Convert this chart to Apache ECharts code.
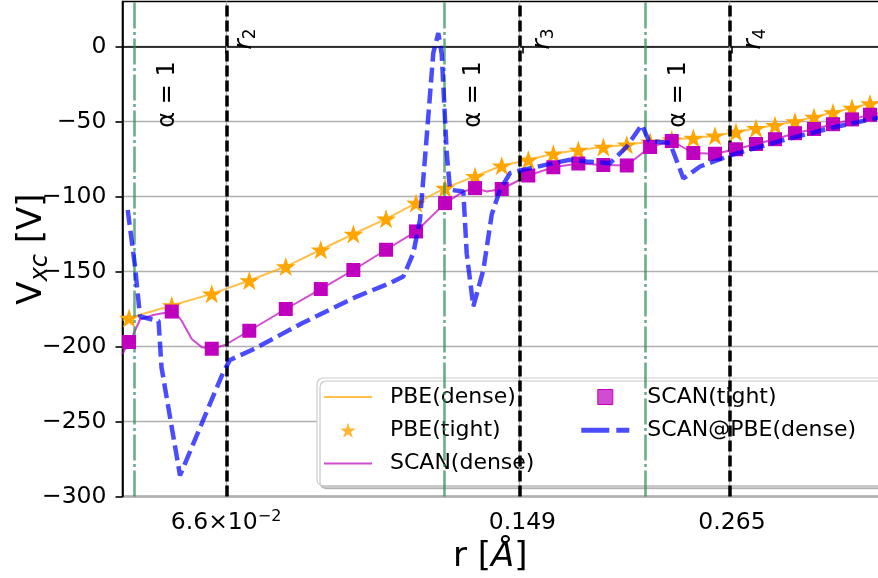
<!DOCTYPE html>
<html><head><meta charset="utf-8">
<script src="https://cdn.jsdelivr.net/npm/echarts@6/dist/echarts.min.js"></script>
<style>html,body{margin:0;padding:0;background:#fff}#c{width:878px;height:578px}</style>
</head><body><div id="c"></div>
<script>
// ---------- axis ticks ----------
const xTickR = [0.066, 0.149, 0.265];
const xTickLabels = ['6.6×10{sup|−2}', '0.149', '0.265'];
const yTicks = [-300, -250, -200, -150, -100, -50, 0];
const xRange = [0.04966, 0.40683];
const yRange = [-300, 30];

// ---------- reference lines ----------
const rRefLines = [0.066, 0.149, 0.265];
const rRefSubs = ['2', '3', '4'];
const alphaLines = [0.0516, 0.1196, 0.2100];

// ---------- tight grid (markers) ----------
const rTight = [0.05056, 0.05686, 0.06346, 0.07036, 0.07777, 0.08562, 0.09364, 0.10244, 0.11124, 0.12047,
  0.13082, 0.14078, 0.15145, 0.16222, 0.17376, 0.18612, 0.19848, 0.21160, 0.22459, 0.23831,
  0.25294, 0.26795, 0.28309, 0.29826, 0.31509, 0.33198, 0.34977, 0.36851, 0.38721];
const pbeTight = [-181, -172.7, -164.9, -156, -146.7, -135.5, -125, -114.9, -104.4, -94.4,
  -86.5, -79.5, -75.5, -71.5, -69, -67, -65.5, -63.5, -62, -61,
  -59.5, -57, -54.5, -52.5, -50, -47, -44, -41, -38];
const scanTight = [-197, -176.7, -201.5, -189.5, -175, -161.7, -149, -135.5, -123.3, -104.4,
  -94.4, -95, -86, -80.5, -78, -79, -79.3, -67, -63, -71,
  -71.5, -68.5, -65, -61.8, -57.8, -55, -51.8, -48.6, -45.5];

// ---------- dense grids (lines) ----------
const rPbeDense = [0.04966, 0.05056, 0.05686, 0.06346, 0.07036, 0.07777, 0.08562, 0.09364, 0.10244, 0.11124,
  0.12047, 0.13082, 0.14078, 0.15145, 0.16222, 0.17376, 0.18612, 0.19848, 0.21160, 0.22459,
  0.23831, 0.25294, 0.26795, 0.28309, 0.29826, 0.31509, 0.33198, 0.34977, 0.36851, 0.38721, 0.40349];
const pbeDense = [-182.5, -181, -172.7, -164.9, -156, -146.7, -135.5, -125, -114.9, -104.4,
  -94.4, -86.5, -79.5, -75.5, -71.5, -69, -67, -65.5, -63.5, -62,
  -61, -59.5, -57, -54.5, -52.5, -50, -47, -44, -41, -38, -36];

const rScanDense = [0.04966, 0.05056, 0.05116, 0.05211, 0.05405, 0.05686, 0.05765, 0.05844, 0.06007, 0.06174, 0.06346,
  0.06582, 0.07036, 0.07777, 0.08562, 0.09364, 0.10244, 0.11124, 0.12047, 0.12668, 0.13082,
  0.13508, 0.14078, 0.15145, 0.16222, 0.17376, 0.18612, 0.19848, 0.21160, 0.22459, 0.23831,
  0.25294, 0.26795, 0.28309, 0.29826, 0.31509, 0.33198, 0.34977, 0.36851, 0.38721, 0.40349];
const scanDense = [-205, -197, -192, -182, -179, -176.7, -178.5, -183, -195, -200.5, -201.5,
  -199, -189.5, -175, -161.7, -149, -135.5, -123.3, -104.4, -96.7, -94.4,
  -96.7, -95, -86, -80.5, -78, -79, -79.3, -67, -63, -71,
  -71.5, -68.5, -65, -61.8, -57.8, -55, -51.8, -48.6, -45.5, -43.5];

const rScanAtPbe = [0.05038, 0.05140, 0.05211, 0.05233, 0.05483, 0.05528, 0.05816, 0.06551, 0.06672, 0.07107,
  0.08132, 0.09451, 0.10357, 0.10742, 0.11041, 0.11246, 0.11455, 0.11664, 0.11826, 0.11937,
  0.12103, 0.12213, 0.12668, 0.12785, 0.13020, 0.13383, 0.13696, 0.14012, 0.14403, 0.14803,
  0.16209, 0.16984, 0.17782, 0.18955, 0.19848, 0.20682, 0.21100, 0.22353, 0.23187, 0.24273,
  0.26577, 0.30237, 0.34977, 0.39578, 0.40349];
const scanAtPbe = [-109, -146.7, -180, -181, -183, -214, -286, -217, -209, -202,
  -184.5, -166.7, -157.8, -153.3, -137.8, -115.5, -60, -4.4, 8.9, -5,
  -71, -95.5, -96.7, -137.8, -173.3, -149, -112, -95.5, -84.4, -82.7,
  -77.8, -75.5, -76.7, -77.8, -66.7, -52.2, -63, -64.4, -88, -80,
  -72, -63, -54, -47.5, -47];

// ---------- build ----------
const FONT = 'DejaVu Sans';
const L = Math.log10;
const pairs = (rs, vs) => rs.map((r, i) => [L(r), vs[i]]);
const STAR = 'path://M50,0L61.2,34.5L97.6,34.5L68.2,55.9L79.4,90.5L50,69.1L20.6,90.5L31.8,55.9L2.4,34.5L38.8,34.5Z';
const LINEICON = 'path://M0,0h48v2h-48z';
const DASHICON = 'path://M0,0h28v5h-28z M35,0h13v5h-13z';
const SQUAREICON = 'path://M0,0h10v10h-10z';
const xTickVals = xTickR.map(L);

const chart = echarts.init(document.getElementById('c'), null, {renderer: 'canvas'});
chart.setOption({
  animation: false,
  textStyle: {fontFamily: FONT},
  grid: {left: 122.5, right: -10, top: 1.5, bottom: 81.5, outerBoundsMode: 'none', containLabel: false,
    show: true, borderColor: '#000', borderWidth: 1.6, backgroundColor: 'transparent'},
  xAxis: {
    type: 'value', min: L(xRange[0]), max: L(xRange[1]),
    axisLine: {lineStyle: {color: '#000', width: 1.6}},
    axisTick: {customValues: xTickVals, length: 7, lineStyle: {color: '#000', width: 1.6}},
    axisLabel: {
      customValues: xTickVals, margin: 12, fontSize: 23.5, lineHeight: 29, color: '#000', fontFamily: FONT,
      formatter: v => { let k = 0, d = 1e9; xTickVals.forEach((t, i) => { if (Math.abs(t - v) < d) { d = Math.abs(t - v); k = i; } }); return xTickLabels[k]; },
      rich: {sup: {fontSize: 16, verticalAlign: 'top', lineHeight: 16, color: '#000', fontFamily: FONT}}
    },
    splitLine: {show: false},
    name: 'r [{i|Å}]', nameLocation: 'middle', nameGap: 41, nameMoveOverlap: false,
    nameTextStyle: {fontSize: 34, lineHeight: 40, color: '#000', fontFamily: FONT, padding: [0, 30, 0, 0],
      rich: {i: {fontSize: 34, lineHeight: 40, fontStyle: 'italic', color: '#000', fontFamily: FONT}}}
  },
  yAxis: {
    type: 'value', min: yRange[0], max: yRange[1], interval: 50,
    axisLine: {show: true, lineStyle: {color: '#000', width: 1.6}},
    axisTick: {show: true, customValues: yTicks, length: 7, lineStyle: {color: '#000', width: 1.6}},
    axisLabel: {customValues: yTicks, margin: 16, fontSize: 23.5, color: '#000', fontFamily: FONT,
      formatter: v => String(v).replace('-', '\u2212')},
    splitLine: {show: true, lineStyle: {color: '#b0b0b0', width: 1.3}},
    name: '{v|V}{s|xc}{v| [V]}', nameLocation: 'middle', nameRotate: 90, nameGap: 70, nameMoveOverlap: false,
    nameTextStyle: {color: '#000', fontFamily: FONT, rich: {
      v: {fontSize: 34, lineHeight: 40, color: '#000', fontFamily: FONT},
      s: {fontSize: 24, lineHeight: 24, verticalAlign: 'bottom', fontStyle: 'italic', color: '#000', fontFamily: FONT}
    }}
  },
  legend: {
    data: [
      {name: 'PBE(dense)', icon: LINEICON, itemStyle: {color: 'rgba(255,165,0,0.7)', borderWidth: 0}},
      {name: 'PBE(tight)', icon: STAR, itemStyle: {color: 'rgba(255,165,0,0.8)', borderWidth: 0}},
      {name: 'SCAN(dense)', icon: LINEICON, itemStyle: {color: 'rgba(191,0,191,0.7)', borderWidth: 0}},
      {name: 'SCAN(tight)', icon: SQUAREICON, itemStyle: {color: 'rgba(191,0,191,0.7)', borderColor: '#BF00BF', borderWidth: 1}},
      {name: 'SCAN@PBE(dense)', icon: DASHICON, itemStyle: {color: 'rgba(0,0,255,0.7)', borderWidth: 0}}
    ],
    orient: 'vertical', left: 317, top: 378, height: 100,
    itemWidth: 48, itemHeight: 15, itemGap: 7.3,
    padding: [6, 38, 9, 7],
    backgroundColor: '#fff', borderColor: '#cccccc', borderWidth: 1.2, borderRadius: 6,
    shadowColor: 'rgba(0,0,0,0.22)', shadowBlur: 0, shadowOffsetX: 3, shadowOffsetY: 3,
    selectedMode: false,
    textStyle: {fontSize: 22, color: '#000', fontFamily: FONT, width: 184, lineHeight: 26, padding: [0, 0, 0, 13]}
  },
  series: [
    {name: 'xgrid', type: 'line', data: [], silent: true, z: 1,
      markLine: {silent: true, animation: false, symbol: ['none', 'none'], label: {show: false},
        lineStyle: {color: '#b0b0b0', width: 1.3, type: 'solid'},
        data: xTickVals.map(v => ({xAxis: v}))}},
    {name: 'PBE(dense)', type: 'line', data: pairs(rPbeDense, pbeDense), symbol: 'none', showSymbol: false,
      color: 'rgba(255,165,0,0.7)', lineStyle: {color: 'rgba(255,165,0,0.7)', width: 2}, z: 2},
    {name: 'PBE(tight)', type: 'scatter', data: pairs(rTight, pbeTight), symbol: STAR, symbolSize: [20, 19],
      itemStyle: {color: '#FFA500', borderWidth: 0, opacity: 1}, z: 3},
    {name: 'SCAN(dense)', type: 'line', data: pairs(rScanDense, scanDense), symbol: 'none', showSymbol: false,
      color: 'rgba(191,0,191,0.7)', lineStyle: {color: 'rgba(191,0,191,0.7)', width: 2}, z: 4},
    {name: 'SCAN(tight)', type: 'scatter', data: pairs(rTight, scanTight), symbol: 'rect', symbolSize: 14,
      itemStyle: {color: '#BF00BF', borderWidth: 0, opacity: 1}, z: 5},
    {name: 'SCAN@PBE(dense)', type: 'line', data: pairs(rScanAtPbe, scanAtPbe), symbol: 'none', showSymbol: false,
      color: 'rgba(0,0,255,0.7)', lineStyle: {color: 'rgba(0,0,255,0.7)', width: 4.5, type: [15, 6]}, z: 6},
    {name: 'refs', type: 'line', data: [], silent: true, z: 10,
      markLine: {silent: true, animation: false, symbol: ['none', 'none'], label: {show: false},
        data: [
          ...alphaLines.map(r => ({xAxis: L(r), lineStyle: {color: 'rgba(46,139,87,0.7)', width: 2.6, type: [26, 3.5, 3, 3.5]}})),
          ...rRefLines.map(r => ({xAxis: L(r), lineStyle: {color: '#000', width: 3.5, type: [11, 4]}}))
        ]},
      markPoint: {silent: true, animation: false, symbol: 'circle', symbolSize: 0,
        itemStyle: {color: 'transparent'},
        label: {show: true, position: 'inside', rotate: 90, color: '#000', fontSize: 24, fontFamily: FONT,
          rich: {
            i: {fontSize: 25, lineHeight: 30, fontStyle: 'italic', color: '#000', fontFamily: FONT},
            s: {fontSize: 17, lineHeight: 17, verticalAlign: 'bottom', color: '#000', fontFamily: FONT}
          }},
        data: [
          ...alphaLines.map(r => ({coord: [L(r), -32], label: {formatter: 'α = 1', offset: [0, 31.5]}})),
          ...rRefLines.map((r, i) => ({coord: [L(r), 5], label: {formatter: '{i|r}{s|' + rRefSubs[i] + '}', offset: [0, [18, 20, 22][i]]}}))
        ]}}
  ]
});
</script></body></html>
